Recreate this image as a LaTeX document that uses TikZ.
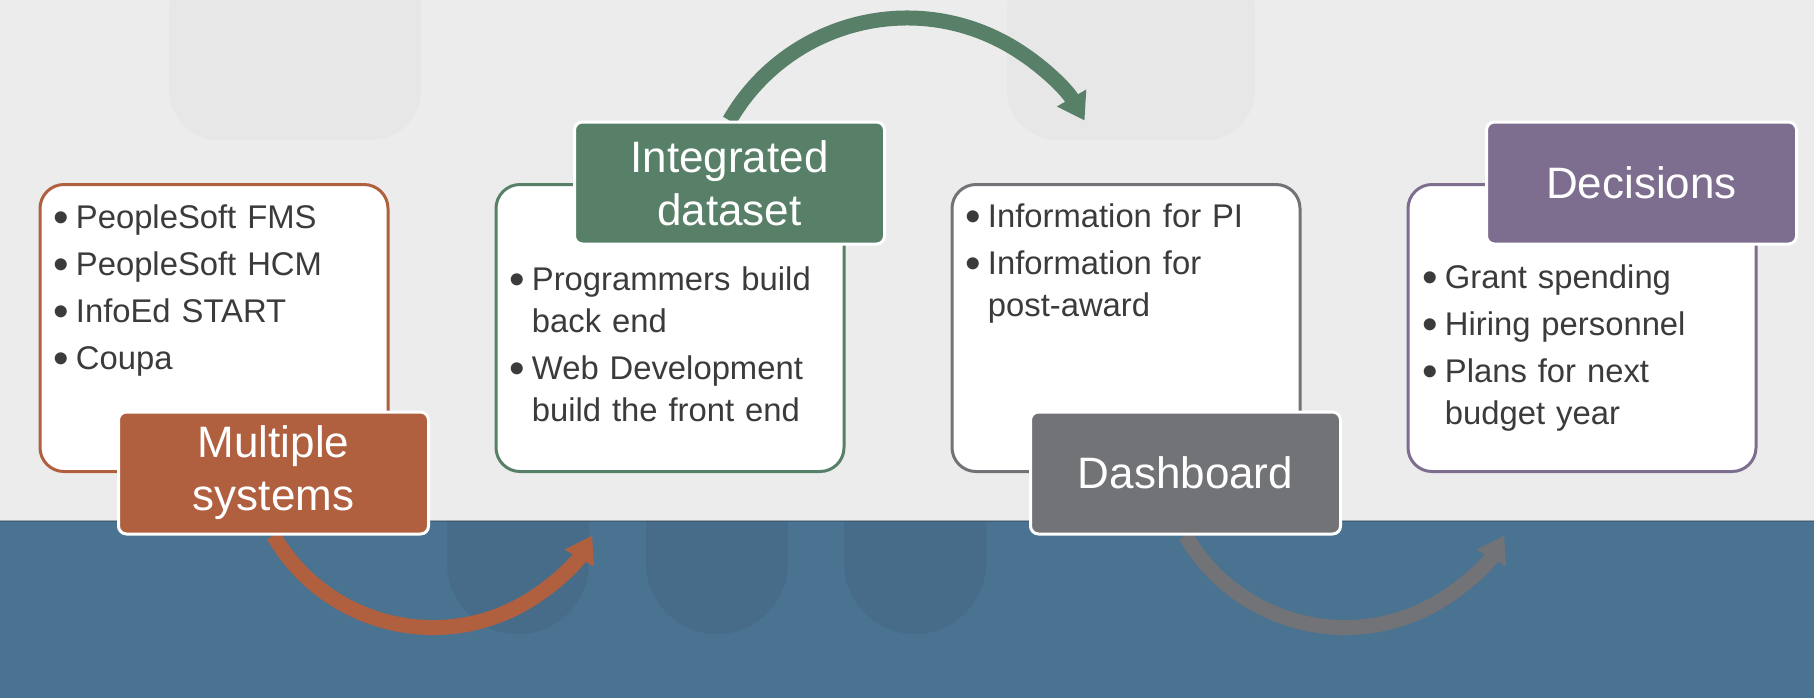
\documentclass[tikz,border=0pt]{standalone}
\usepackage{fontspec}
\setmainfont{Liberation Sans}
\usepackage{tikz}
\usetikzlibrary{arrows.meta, positioning, calc}
\definecolor{rust}{HTML}{B0603F}
\definecolor{sage}{HTML}{587F68}
\definecolor{slate}{HTML}{727376}
\definecolor{plum}{HTML}{7D6E8F}
\definecolor{band}{HTML}{4A7291}
\definecolor{paper}{HTML}{ECECEC}
\definecolor{ink}{HTML}{3B3B3B}
\pgfdeclarelayer{paperlayer}
\pgfdeclarelayer{arclayer}
\pgfsetlayers{paperlayer,arclayer,main}
\newcommand{\bitem}[1]{\par\parskip=2.5pt\relax\leftskip=11pt\relax
  \noindent\hspace*{-11pt}\makebox[11pt][l]{\raisebox{-2pt}{\scalebox{1.35}{\textbullet}}}#1}

\begin{document}
\begin{tikzpicture}[
  x=0.5pt, y=-0.5pt,
  node distance=52.5pt,
  card/.style={draw=#1, line width=1.5pt, fill=white, rounded corners=12pt,
               minimum width=174pt, minimum height=143.5pt},
  tag/.style={draw=white, fill=#1, line width=1.5pt, rounded corners=4pt,
              minimum width=155pt, minimum height=61pt, text=white, align=center,
              font=\fontsize{22}{26.5}\selectfont},
  items/.style={anchor=north west, inner sep=0pt, text width=160pt, align=left,
                text=ink, font=\fontsize{16.4}{21}\selectfont},
  swing/.style={line width=7.5pt, draw=#1, -{Triangle[width=16pt,length=13pt]}}
]
  \useasboundingbox (0,0) rectangle (1814,698);

  % paper, band and faint shapes behind
  \begin{pgfonlayer}{paperlayer}
    \fill[paper] (0,0) rectangle (1814,698);
    \fill[black, opacity=0.02, rounded corners=25pt] (169,-40) rectangle (421,140);
    \fill[black, opacity=0.02, rounded corners=25pt] (1007,-40) rectangle (1255,140);
    \fill[band] (0,521) rectangle (1814,698);
    \draw[band!60!black, opacity=0.4, line width=0.75pt] (0,521) -- (1814,521);
    \foreach \xa in {447,646,844}
      \fill[black, opacity=0.05] (\xa,521) -- (\xa,563)
        arc[start angle=180, end angle=0, radius=71] -- (\xa+142,521) -- cycle;
  \end{pgfonlayer}

  \node[card=rust] (sys) at (214,328) {};
  \node[card=sage, right=of sys] (data) {};
  \node[card=slate, right=of data] (dash) {};
  \node[card=plum, right=of dash] (dec) {};

  \node[items] (sysList) at ($(sys.north west)+(15,-2)$)
    {\bitem{PeopleSoft FMS}\bitem{PeopleSoft HCM}\bitem{InfoEd START}\bitem{Coupa}\par};
  \node[items] (dataList) at ($(data.north west)+(15,60)$)
    {\bitem{Programmers build\newline back end}\bitem{Web Development\newline build the front end}\par};
  \node[items] (dashList) at ($(dash.north west)+(15,-3)$)
    {\bitem{Information for PI}\bitem{Information for\newline post-award}\par};
  \node[items] (decList) at ($(dec.north west)+(16,58)$)
    {\bitem{Grant spending}\bitem{Hiring personnel}\bitem{Plans for next\newline budget year}\par};

  \node[tag=rust] (sysTag) at ($(sys.south east)+(-116,0)$) {Multiple\\systems};
  \node[tag=sage] (dataTag) at ($(data.north east)+(-116,0)$) {Integrated\\dataset};
  \node[tag=slate] (dashTag) at ($(dash.south east)+(-116,0)$) {Dashboard};
  \node[tag=plum] (decTag) at ($(dec.north east)+(-116,0)$) {Decisions};

  \begin{pgfonlayer}{arclayer}
    \draw[swing=rust] (sysTag.south) arc[start angle=150, end angle=30, radius=184];
    \draw[swing=sage] (dataTag.north) arc[start angle=210, end angle=330, radius=205];
    \draw[swing=slate] (dashTag.south) arc[start angle=150, end angle=30, radius=184];
  \end{pgfonlayer}
\end{tikzpicture}
\end{document}
